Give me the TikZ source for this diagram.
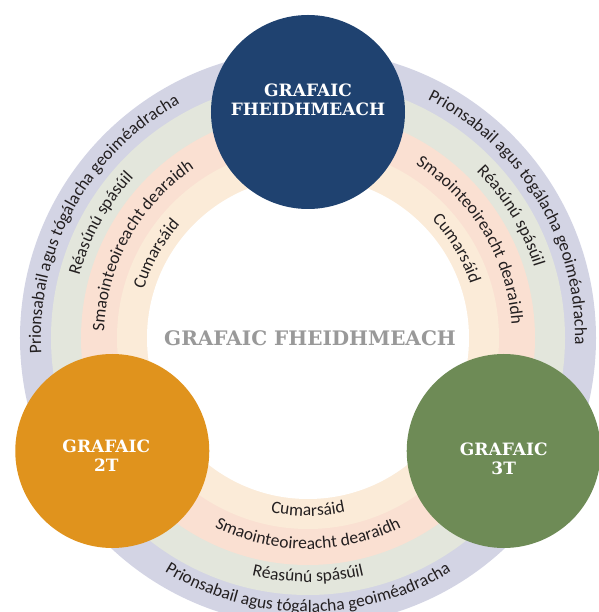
\documentclass[tikz,border=0pt]{standalone}
\usepackage{fontspec}
\setmainfont{Carlito}
\newfontfamily\slabfont{DejaVu Serif}
\usetikzlibrary{decorations.text}
\definecolor{navy}{HTML}{1F4270}
\definecolor{ochre}{HTML}{E0931D}
\definecolor{moss}{HTML}{6E8B56}
\definecolor{lav}{HTML}{D3D4E4}
\definecolor{sage}{HTML}{E3E6DC}
\definecolor{peach}{HTML}{FAE0D2}
\definecolor{cream}{HTML}{FBEBD8}
\definecolor{ringtxt}{HTML}{231F20}
\definecolor{midgray}{HTML}{999999}
\newcommand\ringfont{\fontsize{17.5}{20}\selectfont}
\begin{document}
\begin{tikzpicture}[x=1pt,y=1pt,
  ring/.style={decorate,decoration={text along path,text align=center,text color=ringtxt,text/.expanded={|\noexpand\ringfont|#1}}},
  big/.style={circle,fill=#1,minimum size=194pt,inner sep=0pt},
  lbl/.style={text=white,font=\slabfont\bfseries\fontsize{17}{19}\selectfont,align=center}]

\useasboundingbox (-308,-274) rectangle (290,338);

\foreach \r/\c in {288/lav,257/sage,227/peach,191/cream,161/white}
  \fill[\c] (0,0) circle (\r);

\foreach \t/\rt/\rb in {Prionsabail agus tógálacha geoiméadracha/267/274,Réasúnú spásúil/237/244,Smaointeoireacht dearaidh/204/211,Cumarsáid/171/178}{
  \path[ring=\t] (211:\rt) arc[start angle=211,end angle=91,radius=\rt];
  \path[ring=\t] (91:\rt) arc[start angle=91,end angle=-29,radius=\rt];
  \path[ring=\t] (210:\rb) arc[start angle=210,end angle=330,radius=\rb];
}

\node[big=navy] (fheidh) at (90:226) {};
\node[big=ochre] (dT) at (210:226) {};
\node[big=moss] (tT) at (330:226) {};

\node[lbl] (fheidhlbl) at ([yshift=12pt]fheidh.center) {GRAFAIC\\FHEIDHMEACH};
\node[lbl] (dTlbl) at ([xshift=-6pt,yshift=-5pt]dT.center) {GRAFAIC\\2T};
\node[lbl] (tTlbl) at ([yshift=-8pt]tT.center) {GRAFAIC\\3T};
\node[lbl,text=midgray,font=\slabfont\bfseries\fontsize{20}{22}\selectfont] (mid) at (2,0) {GRAFAIC FHEIDHMEACH};

\end{tikzpicture}
\end{document}
